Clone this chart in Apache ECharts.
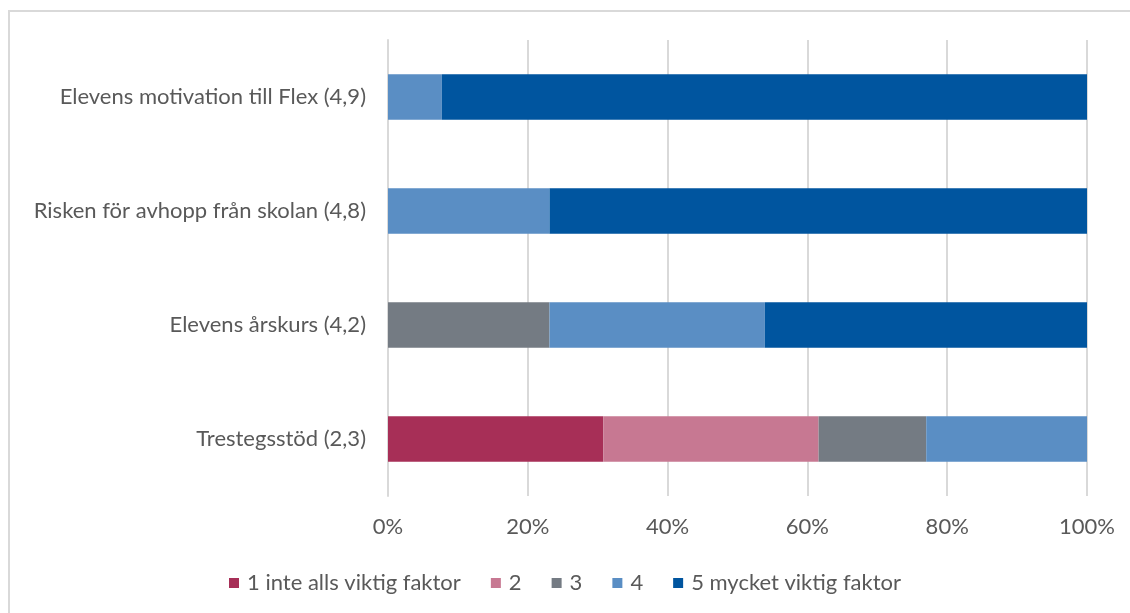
<!DOCTYPE html>
<html>
<head>
<meta charset="utf-8">
<script src="https://cdn.jsdelivr.net/npm/echarts@6/dist/echarts.min.js"></script>
<style>
    html, body { margin: 0; padding: 0; background: #fff; overflow: hidden; }
    #frame { position: absolute; left: 8px; top: 10px; width: 1140px; height: 620px; border: 2px solid #d9d9d9; }
    #chart { position: absolute; left: 0; top: 0; width: 1130px; height: 613px; }
</style>
</head>
<body>
<div id="frame"></div>
<div id="chart"></div>
<script>
    var categories = ['Trestegsstöd (2,3)', 'Elevens årskurs (4,2)', 'Risken för avhopp från skolan (4,8)', 'Elevens motivation till Flex (4,9)'];
    var seriesNames = ['1 inte alls viktig faktor', '2', '3', '4', '5 mycket viktig faktor'];
    var colors = ['#a72f57', '#c77892', '#747b83', '#5a8ec4', '#00559f'];

    /* Share per category, bottom to top. */
    var s1 = [30.8, 0, 0, 0];
    var s2 = [30.8, 0, 0, 0];
    var s3 = [15.4, 23.1, 0, 0];
    var s4 = [23.1, 30.8, 23.1, 7.7];
    var s5 = [0, 46.2, 76.9, 92.3];
    var values = [s1, s2, s3, s4, s5];

    var xTicks = ['0%', '20%', '40%', '60%', '80%', '100%'];

    var font = 'Lato, sans-serif';
    var fontSize = 22;
    var chart = echarts.init(document.getElementById('chart'));

    var series = seriesNames.map(function (name, i) {
        return {
            name: name,
            type: 'bar',
            stack: 'total',
            barWidth: '40%',
            itemStyle: { color: colors[i] },
            data: values[i]
        };
    });

    var option = {
        animation: false,
        textStyle: { fontFamily: font },
        grid: {
            left: 388,
            right: 43,
            top: 40,
            bottom: 117
        },
        legend: {
            top: 567,
            left: 'center',
            itemWidth: 10,
            itemHeight: 10,
            itemGap: 30,
            icon: 'rect',
            textStyle: { color: '#595959', fontSize: fontSize, fontFamily: font, padding: [0, 0, 0, 3] },
            data: seriesNames
        },
        xAxis: {
            type: 'value',
            min: 0,
            max: 100,
            interval: 20,
            axisLine: { show: false },
            axisTick: { show: false },
            splitLine: { lineStyle: { color: '#d9d9d9', width: 2 } },
            axisLabel: {
                color: '#595959',
                fontSize: fontSize,
                margin: 20,
                formatter: function (v) { return xTicks[v / 20]; }
            }
        },
        yAxis: {
            type: 'category',
            data: categories,
            axisLine: { lineStyle: { color: '#d9d9d9', width: 2 } },
            axisTick: { show: false },
            axisLabel: { color: '#595959', fontSize: fontSize, margin: 22 }
        },
        series: series
    };
    chart.setOption(option);

    window.addEventListener('resize', function () {
        chart.resize();
    });
</script>
</body>
</html>
